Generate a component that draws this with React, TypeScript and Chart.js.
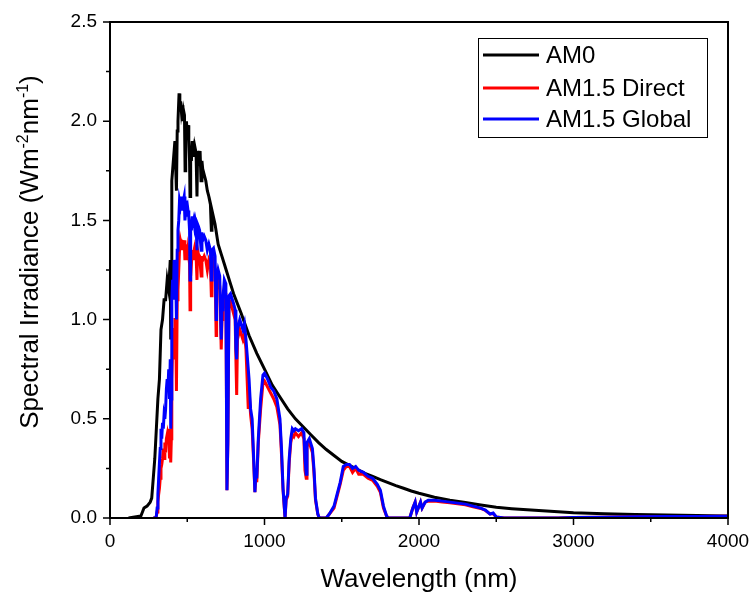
import React, { useEffect, useRef } from "react";
import { Chart, registerables } from "chart.js";

Chart.register(...registerables);

// ---------- DATA ----------
const seriesLabels = ["AM0", "AM1.5 Direct", "AM1.5 Global"];
const seriesColors = ["#000000", "#ff0000", "#0000ff"];

const am0Wavelengths = [
  120, 200, 210, 220, 240, 260, 270, 280, 290, 300, 310, 320, 330, 340, 350, 360, 370, 380, 390, 393, 396,
  400, 405, 410, 420, 430, 435, 440, 447, 452, 457, 462, 467, 472, 477, 482, 486, 490, 495, 500, 505, 510,
  515, 518, 522, 527, 532, 537, 542, 547, 552, 557, 563, 567, 572, 578, 583, 589, 595, 600, 610, 620, 630,
  640, 650, 656, 660, 680, 700, 720, 740, 760, 780, 800, 850, 900, 950, 1000, 1050, 1100, 1150, 1200, 1250,
  1300, 1350, 1400, 1450, 1500, 1550, 1600, 1650, 1700, 1750, 1800, 1850, 1900, 1950, 2000, 2100, 2200,
  2300, 2400, 2500, 2600, 2700, 2800, 3000, 3200, 3400, 3600, 3800, 4000,
];
const am0Irradiance = [
  0, 0.01, 0.03, 0.05, 0.06, 0.08, 0.1, 0.2, 0.3, 0.45, 0.6, 0.7, 0.95, 1.0, 1.1, 1.1, 1.2, 1.15, 1.3, 0.9, 1.2,
  1.7, 1.75, 1.8, 1.9, 1.65, 1.95, 2.0, 2.14, 2.05, 2.1, 2.05, 2.08, 2.0, 2.05, 2.03, 1.75, 1.95, 2.0, 1.92, 1.98, 1.9,
  1.8, 1.62, 1.85, 1.8, 1.9, 1.85, 1.87, 1.82, 1.86, 1.84, 1.62, 1.85, 1.82, 1.8, 1.85, 1.7, 1.8, 1.76, 1.73, 1.7, 1.65,
  1.62, 1.58, 1.45, 1.55, 1.48, 1.38, 1.33, 1.28, 1.23, 1.18, 1.13, 1.03, 0.92, 0.83, 0.75, 0.67, 0.61, 0.55, 0.5, 0.46,
  0.42, 0.38, 0.345, 0.315, 0.285, 0.265, 0.245, 0.225, 0.21, 0.193, 0.178, 0.163, 0.15, 0.136, 0.125, 0.105, 0.09,
  0.078, 0.066, 0.054, 0.047, 0.041, 0.036, 0.027, 0.022, 0.018, 0.015, 0.012, 0.01,
];

const terrestrialWavelengths = [
  280, 295, 300, 305, 310, 315, 320, 325, 330, 335, 340, 345, 350, 355, 360, 365, 370, 375, 380, 385, 390, 393, 397,
  400, 405, 410, 415, 420, 425, 430, 435, 440, 445, 450, 455, 460, 465, 470, 475, 480, 485, 490, 495, 500, 505, 510,
  515, 518, 522, 527, 532, 537, 542, 547, 552, 557, 563, 567, 572, 580, 590, 595, 600, 610, 620, 630, 640, 650, 656,
  660, 670, 680, 687, 690, 700, 710, 720, 725, 730, 740, 750, 757, 763, 770, 780, 800, 810, 815, 820, 825, 840, 860,
  870, 880, 895, 900, 910, 920, 930, 938, 945, 950, 960, 975, 990, 1000, 1020, 1040, 1060, 1080, 1100, 1110, 1120,
  1133, 1140, 1150, 1160, 1170, 1180, 1190, 1200, 1220, 1240, 1255, 1262, 1270, 1275, 1290, 1310, 1320, 1330, 1345,
  1355, 1400, 1420, 1450, 1470, 1490, 1510, 1530, 1550, 1570, 1590, 1610, 1640, 1670, 1700, 1730, 1750, 1770, 1790,
  1800, 1940, 1960, 1975, 1985, 2000, 2010, 2020, 2040, 2060, 2100, 2150, 2200, 2250, 2300, 2350, 2400, 2430, 2460,
  2480, 2500, 2550, 2900, 3000, 3200, 3400, 3600, 3800, 4000,
];
const globalIrradiance = [
  0, 0, 0.01, 0.05, 0.12, 0.2, 0.28, 0.35, 0.45, 0.4, 0.48, 0.45, 0.52, 0.5, 0.55, 0.65, 0.7, 0.65, 0.75, 0.6, 0.8, 0.45, 0.6,
  1.1, 1.2, 1.1, 1.3, 1.3, 1.25, 1.0, 1.35, 1.45, 1.5, 1.6, 1.58, 1.62, 1.55, 1.58, 1.6, 1.62, 1.5, 1.55, 1.6, 1.52, 1.55, 1.52,
  1.45, 1.2, 1.5, 1.45, 1.52, 1.48, 1.5, 1.47, 1.5, 1.48, 1.35, 1.48, 1.47, 1.45, 1.35, 1.44, 1.4, 1.42, 1.4, 1.35, 1.38, 1.35, 1.2,
  1.35, 1.36, 1.32, 1.0, 1.2, 1.25, 1.22, 0.9, 1.05, 1.1, 1.2, 1.18, 0.14, 0.4, 1.12, 1.13, 1.08, 1.05, 0.85, 0.8, 0.95, 1.0, 0.95,
  0.98, 0.9, 0.75, 0.7, 0.55, 0.5, 0.3, 0.13, 0.25, 0.2, 0.4, 0.6, 0.72, 0.73, 0.7, 0.66, 0.64, 0.6, 0.5, 0.35, 0.15,
  0, 0.1, 0.12, 0.3, 0.4, 0.45, 0.44, 0.45, 0.44, 0.45, 0.43, 0.3, 0.22, 0.38, 0.4, 0.35, 0.25, 0.1, 0.02,
  0, 0, 0.02, 0.06, 0.12, 0.18, 0.26, 0.27, 0.27, 0.25, 0.26, 0.24, 0.23, 0.21, 0.2, 0.17, 0.14, 0.06, 0.01,
  0, 0, 0.05, 0.08, 0.03, 0.06, 0.08, 0.05, 0.08, 0.09, 0.09, 0.085, 0.08, 0.075, 0.07, 0.06, 0.05, 0.04, 0.02,
  0.025, 0.005, 0, 0, 0.002, 0.004, 0.006, 0.007, 0.008, 0.009,
];
const directIrradiance = [
  0, 0, 0.01, 0.03, 0.08, 0.12, 0.15, 0.2, 0.25, 0.27, 0.3, 0.35, 0.3, 0.38, 0.33, 0.4, 0.42, 0.38, 0.45, 0.3, 0.45, 0.28, 0.4,
  0.7, 0.85, 0.8, 0.95, 1.0, 1.0, 0.64, 1.1, 1.15, 1.25, 1.35, 1.4, 1.38, 1.35, 1.38, 1.37, 1.4, 1.3, 1.33, 1.38, 1.3, 1.35, 1.32,
  1.28, 1.05, 1.3, 1.28, 1.35, 1.32, 1.34, 1.3, 1.35, 1.33, 1.2, 1.35, 1.33, 1.32, 1.22, 1.32, 1.3, 1.32, 1.3, 1.25, 1.3, 1.28, 1.12,
  1.28, 1.3, 1.26, 0.92, 1.15, 1.2, 1.17, 0.85, 1.0, 1.05, 1.15, 1.13, 0.14, 0.38, 1.08, 1.09, 1.03, 1.0, 0.8, 0.62, 0.9, 0.95, 0.9,
  0.93, 0.85, 0.55, 0.65, 0.52, 0.45, 0.28, 0.13, 0.23, 0.18, 0.38, 0.55, 0.68, 0.69, 0.66, 0.63, 0.6, 0.56, 0.47, 0.32, 0.14,
  0, 0.09, 0.11, 0.28, 0.38, 0.42, 0.41, 0.43, 0.41, 0.43, 0.4, 0.24, 0.2, 0.36, 0.38, 0.33, 0.23, 0.09, 0.02,
  0, 0, 0.02, 0.05, 0.11, 0.17, 0.24, 0.26, 0.26, 0.23, 0.25, 0.22, 0.22, 0.2, 0.19, 0.16, 0.13, 0.05, 0.01,
  0, 0, 0.05, 0.08, 0.03, 0.06, 0.08, 0.05, 0.08, 0.085, 0.085, 0.08, 0.077, 0.072, 0.067, 0.057, 0.048, 0.038, 0.02,
  0.022, 0.005, 0, 0, 0.002, 0.004, 0.006, 0.007, 0.008, 0.009,
];

const xTickValues = [0, 1000, 2000, 3000, 4000];
const yTickValues = [0, 0.5, 1.0, 1.5, 2.0, 2.5];
const xTitle = "Wavelength (nm)";
const yTitleParts: [string, boolean][] = [
  ["Spectral Irradiance (Wm", false],
  ["-2", true],
  ["nm", false],
  ["-1", true],
  [")", false],
];

const FONT = '"Liberation Sans", Arial, Helvetica, sans-serif';

function toPoints(xs: number[], ys: number[]) {
  return xs.map((x, i) => ({ x, y: ys[i] }));
}

const originPlugin = {
  id: "originDecor",
  afterDraw(chart: any) {
    const { ctx, chartArea: a, scales } = chart;
    const x = scales.x;
    const y = scales.y;
    ctx.save();
    // frame
    ctx.strokeStyle = "#000";
    ctx.lineWidth = 2;
    ctx.strokeRect(a.left, a.top, a.right - a.left, a.bottom - a.top);
    // ticks (major + minor, outward)
    ctx.lineWidth = 1.5;
    ctx.beginPath();
    for (const t of y.ticks) {
      const py = y.getPixelForValue(t.value);
      const major = yTickValues.some((v) => Math.abs(v - t.value) < 1e-6);
      ctx.moveTo(a.left, py);
      ctx.lineTo(a.left - (major ? 7 : 4), py);
    }
    for (const t of x.ticks) {
      const px = x.getPixelForValue(t.value);
      const major = xTickValues.some((v) => Math.abs(v - t.value) < 1e-6);
      ctx.moveTo(px, a.bottom);
      ctx.lineTo(px, a.bottom + (major ? 7 : 4));
    }
    ctx.stroke();

    // x title
    ctx.fillStyle = "#000";
    ctx.font = `26px ${FONT}`;
    ctx.textAlign = "center";
    ctx.textBaseline = "alphabetic";
    ctx.fillText(xTitle, (a.left + a.right) / 2, 587);

    // y title with superscripts
    const mainFont = `26px ${FONT}`;
    const supFont = `16px ${FONT}`;
    let total = 0;
    for (const [txt, sup] of yTitleParts) {
      ctx.font = sup ? supFont : mainFont;
      total += ctx.measureText(txt).width;
    }
    ctx.save();
    ctx.translate(38, 252);
    ctx.rotate(-Math.PI / 2);
    ctx.textAlign = "left";
    let cx = -total / 2;
    for (const [txt, sup] of yTitleParts) {
      ctx.font = sup ? supFont : mainFont;
      ctx.fillText(txt, cx, sup ? -10 : 0);
      cx += ctx.measureText(txt).width;
    }
    ctx.restore();

    // legend box
    const lx = 478, ly = 38, lw = 229, lh = 99;
    ctx.lineWidth = 1;
    ctx.strokeStyle = "#000";
    ctx.strokeRect(lx + 0.5, ly + 0.5, lw, lh);
    const rows = [55, 88, 119];
    ctx.font = `24px ${FONT}`;
    ctx.textAlign = "left";
    ctx.textBaseline = "middle";
    chart.data.datasets.forEach((ds: any, i: number) => {
      const ry = rows[i];
      ctx.strokeStyle = ds.borderColor;
      ctx.lineWidth = 3;
      ctx.beginPath();
      ctx.moveTo(483, ry);
      ctx.lineTo(539, ry);
      ctx.stroke();
      ctx.fillStyle = "#000";
      ctx.fillText(ds.label, 546, ry + 1);
    });
    ctx.restore();
  },
};

export default function App() {
  const ref = useRef<HTMLCanvasElement | null>(null);
  useEffect(() => {
    if (!ref.current) return;
    const chart = new Chart(ref.current, {
      type: "line",
      data: {
        datasets: [
          {
            label: seriesLabels[0],
            data: toPoints(am0Wavelengths, am0Irradiance),
            borderColor: seriesColors[0],
            order: 3,
          },
          {
            label: seriesLabels[1],
            data: toPoints(terrestrialWavelengths, directIrradiance),
            borderColor: seriesColors[1],
            order: 2,
          },
          {
            label: seriesLabels[2],
            data: toPoints(terrestrialWavelengths, globalIrradiance),
            borderColor: seriesColors[2],
            order: 1,
          },
        ].map((d) => ({
          ...d,
          borderWidth: 3,
          pointRadius: 0,
          tension: 0,
          fill: false,
          borderJoinStyle: "miter" as const,
        })),
      },
      options: {
        animation: false,
        responsive: false,
        devicePixelRatio: 1,
        layout: { padding: { top: 22, right: 24, left: 0, bottom: 0 } },
        plugins: { legend: { display: false }, tooltip: { enabled: false } },
        scales: {
          x: {
            type: "linear",
            min: 0,
            max: 4000,
            grid: { display: false, drawTicks: false, tickLength: 0 },
            border: { display: false },
            afterFit: (s: any) => {
              s.height = 80;
              s.paddingLeft = 0;
              s.paddingRight = 0;
            },
            ticks: {
              stepSize: 500,
              autoSkip: false,
              maxRotation: 0,
              padding: 12,
              color: "#000",
              font: { family: FONT, size: 19 },
              callback: (v: any) => (xTickValues.includes(Number(v)) ? String(v) : ""),
            },
          },
          y: {
            type: "linear",
            min: 0,
            max: 2.5,
            grid: { display: false, drawTicks: false, tickLength: 0 },
            border: { display: false },
            afterFit: (s: any) => {
              s.width = 110;
              s.paddingTop = 0;
              s.paddingBottom = 0;
            },
            ticks: {
              stepSize: 0.25,
              autoSkip: false,
              padding: 13,
              color: "#000",
              font: { family: FONT, size: 19 },
              callback: (v: any) =>
                yTickValues.some((t) => Math.abs(t - Number(v)) < 1e-6) ? Number(v).toFixed(1) : "",
            },
          },
        },
      },
      plugins: [originPlugin],
    });
    return () => chart.destroy();
  }, []);
  return (
    <div style={{ position: "absolute", left: 0, top: 0, width: 752, height: 598, background: "#fff" }}>
      <canvas ref={ref} width={752} height={598} style={{ display: "block", width: 752, height: 598 }} />
    </div>
  );
}
